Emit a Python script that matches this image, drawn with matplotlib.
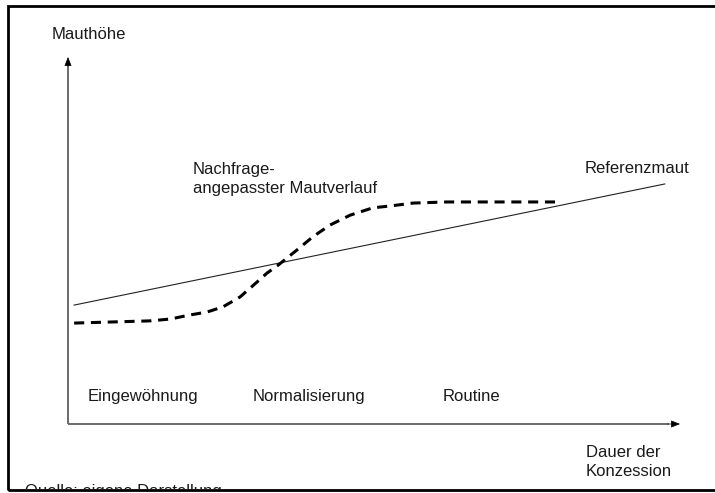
"""Schematic: demand-adjusted toll path vs. reference toll over the concession period."""
import matplotlib

matplotlib.use("Agg")
import matplotlib.pyplot as plt
from matplotlib.patches import Rectangle
from matplotlib.transforms import Bbox, TransformedBbox

plt.rcParams["font.family"] = ["Liberation Sans", "DejaVu Sans"]

# data units: duration 0..100 (x), toll level 0..100 (y)
ref_x = [1.0, 97.5]
ref_y = [32.4, 65.4]

toll_x = [1.0, 13.4, 16.7, 19.9, 22.7, 25.3, 28.1, 30.9, 32.5, 34.2, 37.4,
          40.0, 42.8, 46.1, 49.8, 52.6, 56.4, 61.9, 80.4]
toll_y = [27.5, 28.1, 28.6, 29.7, 30.5, 31.9, 34.6, 38.7, 41.1, 43.1, 47.4,
          51.0, 54.2, 56.9, 58.9, 59.4, 60.2, 60.5, 60.5]

phase_labels = ["Eingewöhnung", "Normalisierung", "Routine"]

W, H = 715, 493
fig = plt.figure(figsize=(W / 100, H / 100), dpi=100)
ax = fig.add_axes([0, 0, 1, 1])
ax.set_axis_off()
# axis origin sits at pixel (68, 424), arrow tips at x=680 / y=57
sx, sy = (680 - 68) / 100, (424 - 57) / 100
ax.set_xlim(-68 / sx, (W - 68) / sx)
ax.set_ylim(-(H - 424) / sy, 424 / sy)

# axes with arrow heads
axis_col = "#6a6a6a"
ax.plot([0, 98.2], [0, 0], color=axis_col, lw=1.4, solid_capstyle="butt")
ax.plot([0, 0], [0, 98.0], color=axis_col, lw=1.4, solid_capstyle="butt")
head = dict(arrowstyle="-|>,head_length=0.55,head_width=0.22", color="black",
            lw=0.5, shrinkA=0, shrinkB=0)
ax.annotate("", xy=(100, 0), xytext=(98.0, 0), arrowprops=head)
ax.annotate("", xy=(0, 100), xytext=(0, 97.5), arrowprops=head)

# curves
ax.plot(ref_x, ref_y, color="#222222", lw=0.8)
ax.plot(toll_x, toll_y, color="black", lw=2.2, dashes=(3.3, 2.2),
        dash_capstyle="butt", solid_joinstyle="round")


def px_text(x, y, s, **kw):
    return fig.text(x / W, 1 - y / H, s, fontsize=12, color="#1a1a1a",
                    va="baseline", ha="left", **kw)


px_text(52, 39, "Mauthöhe")
px_text(193, 174, "Nachfrage-")
px_text(193, 193, "angepasster Mautverlauf")
px_text(585, 173, "Referenzmaut")
for x, s in zip([88, 253, 443], phase_labels):
    px_text(x, 401, s)
px_text(586, 457, "Dauer der")
px_text(586, 476, "Konzession")

# source line, partly hidden under the frame
q = px_text(25, 496, "Quelle: eigene Darstellung")
q.set_clip_box(TransformedBbox(Bbox([[0, 4 / H], [1, 1]]), fig.transFigure))
q.set_clip_on(True)

# frame around the figure
fig.patches.append(Rectangle((7.5 / W, 3 / H), 1.1, (H - 8.5) / H,
                             transform=fig.transFigure, fill=False,
                             edgecolor="black", lw=2.0, clip_on=False))

fig.savefig("out.png", dpi=100)
plt.close(fig)
